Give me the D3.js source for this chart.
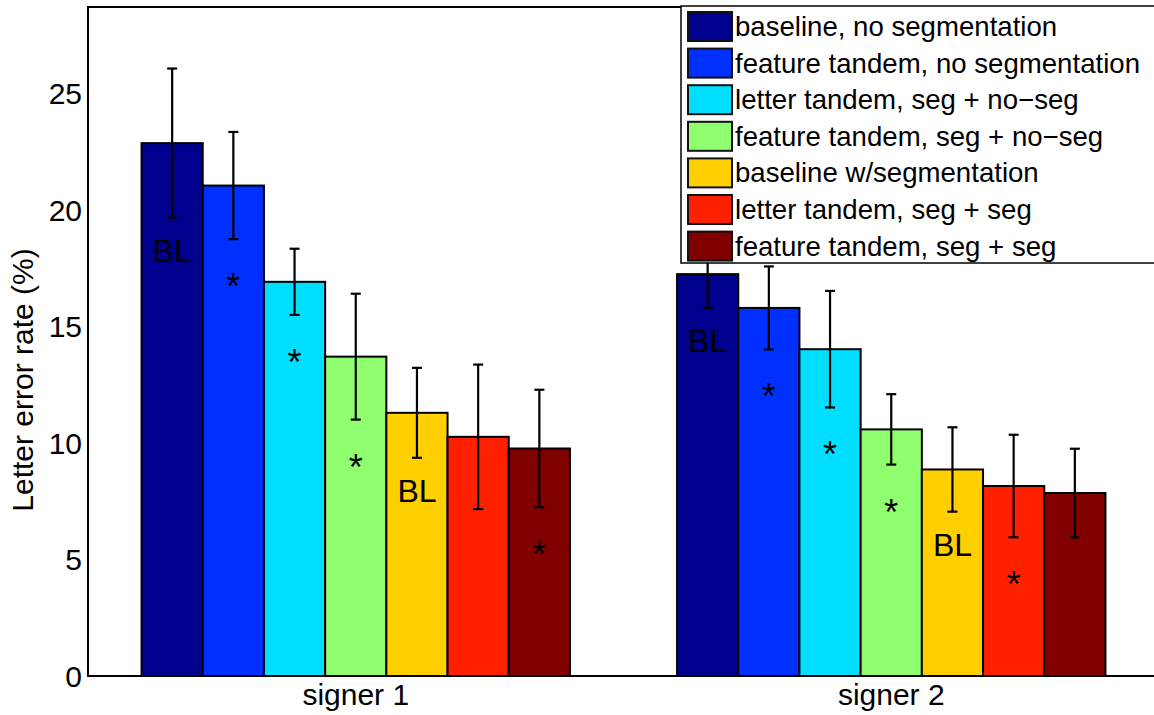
<!DOCTYPE html>
<html>
<head>
<meta charset="utf-8">
<title>Letter error rate</title>
<script src="https://d3js.org/d3.v7.min.js"></script>
<style>
  body { margin: 0; background: #fff; }
  text { font-family: "Liberation Sans", Arial, sans-serif; fill: #000; }
</style>
</head>
<body>
<div id="viz"></div>
<script>
// data
const groups = ["signer 1", "signer 2"];
const series = [
  "baseline, no segmentation",
  "feature tandem, no segmentation",
  "letter tandem, seg + no\u2212seg",
  "feature tandem, seg + no\u2212seg",
  "baseline w/segmentation",
  "letter tandem, seg + seg",
  "feature tandem, seg + seg"
];
const colors = ["#00008f", "#0030ff", "#00dfff", "#8fff70", "#ffcf00", "#ff2000", "#800000"];
const signer1 = [22.86, 21.04, 16.91, 13.7, 11.29, 10.26, 9.76];
const signer2 = [17.24, 15.79, 14.02, 10.58, 8.86, 8.15, 7.85];
const err1 = [3.2, 2.3, 1.42, 2.7, 1.93, 3.1, 2.52];
const err2 = [1.45, 1.78, 2.5, 1.51, 1.81, 2.2, 1.9];
const marks1 = ["BL", "*", "*", "*", "BL", "", "*"];
const marks2 = ["BL", "*", "*", "*", "BL", "*", ""];
const yTicks = [0, 5, 10, 15, 20, 25];

const W = 1154, H = 715;
const mLeft = 88, mTop = 7, mBottom = 676, mRight = 1159;

const svg = d3.select("#viz").append("svg")
  .attr("width", W).attr("height", H);

const x = d3.scaleLinear().domain([0.5, 2.5]).range([mLeft, mRight]);
const y = d3.scaleLinear().domain([0, 28.7]).range([mBottom, mTop]);
const barW = 0.8 / series.length;

const rows = [];
[signer1, signer2].forEach((vals, g) => {
  const errs = g === 0 ? err1 : err2;
  const marks = g === 0 ? marks1 : marks2;
  vals.forEach((v, k) => {
    rows.push({g: g + 1, k: k, v: v, e: errs[k], m: marks[k]});
  });
});
const cx = d => x(d.g + (d.k - (series.length - 1) / 2) * barW);

// bars
svg.append("g").selectAll("rect").data(rows).enter().append("rect")
  .attr("x", d => x(d.g + (d.k - series.length / 2) * barW))
  .attr("width", x(barW) - x(0))
  .attr("y", d => y(d.v))
  .attr("height", d => y(0) - y(d.v))
  .attr("fill", d => colors[d.k])
  .attr("stroke", "#000").attr("stroke-width", 2);

// error bars
const eb = svg.append("g").attr("stroke", "#000").attr("stroke-width", 2.2);
rows.forEach(d => {
  const c = cx(d);
  eb.append("line").attr("x1", c).attr("x2", c).attr("y1", y(d.v - d.e)).attr("y2", y(d.v + d.e));
  eb.append("line").attr("x1", c - 5).attr("x2", c + 5).attr("y1", y(d.v - d.e)).attr("y2", y(d.v - d.e));
  eb.append("line").attr("x1", c - 5).attr("x2", c + 5).attr("y1", y(d.v + d.e)).attr("y2", y(d.v + d.e));
});

// significance marks
svg.append("g").selectAll("text").data(rows.filter(d => d.m)).enter().append("text")
  .attr("x", cx)
  .attr("y", d => y(d.v - d.e) + (d.m === "BL" ? 44 : 60))
  .attr("text-anchor", "middle")
  .style("font-size", d => d.m === "BL" ? "32px" : "36px")
  .text(d => d.m);

// axis frame
svg.append("rect").attr("x", mLeft).attr("y", mTop)
  .attr("width", mRight - mLeft).attr("height", mBottom - mTop)
  .attr("fill", "none").attr("stroke", "#000").attr("stroke-width", 2);

// y tick labels
svg.append("g").selectAll("text").data(yTicks).enter().append("text")
  .attr("x", 82).attr("y", d => y(d))
  .attr("dy", "0.36em")
  .attr("text-anchor", "end")
  .style("font-size", "30px")
  .text(d => d);

// x labels
svg.append("g").selectAll("text").data(groups).enter().append("text")
  .attr("x", (d, i) => x(i + 1)).attr("y", 705)
  .attr("text-anchor", "middle")
  .style("font-size", "30px")
  .text(d => d);

// y label
svg.append("text")
  .attr("transform", "translate(33,380) rotate(-90)")
  .attr("text-anchor", "middle")
  .style("font-size", "30px")
  .text("Letter error rate (%)");

// legend
const lg = svg.append("g");
lg.append("rect").attr("x", 681).attr("y", 6).attr("width", 490).attr("height", 257)
  .attr("fill", "#fff").attr("stroke", "#000").attr("stroke-width", 1.5);
series.forEach((s, i) => {
  lg.append("rect").attr("x", 688).attr("y", 12 + 36.6 * i).attr("width", 44).attr("height", 29)
    .attr("fill", colors[i]).attr("stroke", "#111").attr("stroke-width", 2);
  lg.append("text").attr("x", 735).attr("y", 36 + 36.6 * i)
    .style("font-size", "27.6px").text(s);
});
</script>
</body>
</html>
